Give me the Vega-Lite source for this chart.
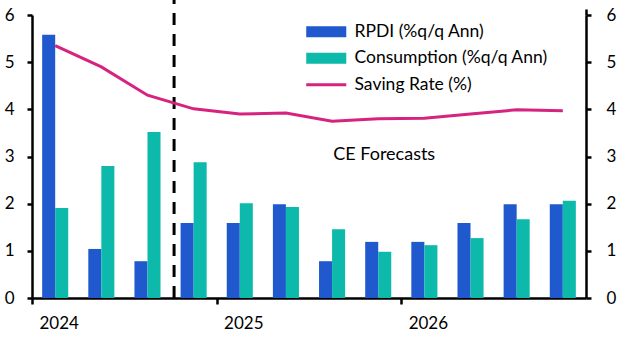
{
  "$schema": "https://vega.github.io/schema/vega-lite/v6.json",
  "width": 554,
  "height": 283,
  "autosize": {"type": "none"},
  "padding": {"left": 32, "top": 15, "right": 46, "bottom": 59},
  "config": {
    "font": "Lato",
    "view": {"stroke": null},
    "axis": {
      "domainColor": "black",
      "domainWidth": 2.5,
      "tickColor": "black",
      "tickWidth": 2.5,
      "tickSize": 5,
      "labelFontSize": 17,
      "labelColor": "black",
      "labelFont": "Lato",
      "grid": false,
      "title": null
    }
  },
  "datasets": {
    "bars": [
      {"q": "2024Q1", "series": "RPDI (%q/q Ann)", "value": 5.58},
      {"q": "2024Q1", "series": "Consumption (%q/q Ann)", "value": 1.91},
      {"q": "2024Q2", "series": "RPDI (%q/q Ann)", "value": 1.04},
      {"q": "2024Q2", "series": "Consumption (%q/q Ann)", "value": 2.8},
      {"q": "2024Q3", "series": "RPDI (%q/q Ann)", "value": 0.78},
      {"q": "2024Q3", "series": "Consumption (%q/q Ann)", "value": 3.52},
      {"q": "2024Q4", "series": "RPDI (%q/q Ann)", "value": 1.59},
      {"q": "2024Q4", "series": "Consumption (%q/q Ann)", "value": 2.88},
      {"q": "2025Q1", "series": "RPDI (%q/q Ann)", "value": 1.59},
      {"q": "2025Q1", "series": "Consumption (%q/q Ann)", "value": 2.01},
      {"q": "2025Q2", "series": "RPDI (%q/q Ann)", "value": 1.99},
      {"q": "2025Q2", "series": "Consumption (%q/q Ann)", "value": 1.93},
      {"q": "2025Q3", "series": "RPDI (%q/q Ann)", "value": 0.78},
      {"q": "2025Q3", "series": "Consumption (%q/q Ann)", "value": 1.46},
      {"q": "2025Q4", "series": "RPDI (%q/q Ann)", "value": 1.19},
      {"q": "2025Q4", "series": "Consumption (%q/q Ann)", "value": 0.98},
      {"q": "2026Q1", "series": "RPDI (%q/q Ann)", "value": 1.19},
      {"q": "2026Q1", "series": "Consumption (%q/q Ann)", "value": 1.12},
      {"q": "2026Q2", "series": "RPDI (%q/q Ann)", "value": 1.59},
      {"q": "2026Q2", "series": "Consumption (%q/q Ann)", "value": 1.27},
      {"q": "2026Q3", "series": "RPDI (%q/q Ann)", "value": 1.99},
      {"q": "2026Q3", "series": "Consumption (%q/q Ann)", "value": 1.67},
      {"q": "2026Q4", "series": "RPDI (%q/q Ann)", "value": 1.99},
      {"q": "2026Q4", "series": "Consumption (%q/q Ann)", "value": 2.06}
    ],
    "saving": [
      {"q": "2024Q1", "rate": 5.35},
      {"q": "2024Q2", "rate": 4.9},
      {"q": "2024Q3", "rate": 4.3},
      {"q": "2024Q4", "rate": 4.01},
      {"q": "2025Q1", "rate": 3.9},
      {"q": "2025Q2", "rate": 3.92},
      {"q": "2025Q3", "rate": 3.75},
      {"q": "2025Q4", "rate": 3.8},
      {"q": "2026Q1", "rate": 3.81},
      {"q": "2026Q2", "rate": 3.9},
      {"q": "2026Q3", "rate": 3.99},
      {"q": "2026Q4", "rate": 3.97}
    ],
    "notes": [
      {"q": "2025Q4", "y": 3.03, "label": "CE Forecasts", "divider": "2024Q4", "top": 6.32, "bottom": 0}
    ]
  },
  "layer": [
    {
      "layer": [
        {
          "data": {"name": "bars"},
          "mark": {"type": "bar"},
          "encoding": {
            "x": {
              "field": "q",
              "type": "nominal",
              "sort": "ascending",
              "scale": {"paddingInner": 0.435, "paddingOuter": 0.22},
              "axis": {
                "values": ["2024Q1", "2025Q1", "2026Q1"],
                "bandPosition": 0,
                "tickOffset": -10,
                "labelOffset": 13.5,
                "tickSize": 6,
                "labelPadding": 11,
                "labelAngle": 0,
                "labelExpr": "substring(datum.label, 0, 4)"
              }
            },
            "xOffset": {
              "field": "series",
              "type": "nominal",
              "sort": ["RPDI (%q/q Ann)", "Consumption (%q/q Ann)"]
            },
            "y": {
              "field": "value",
              "type": "quantitative",
              "scale": {"domain": [0, 6], "nice": false},
              "axis": {"orient": "left", "values": [0, 1, 2, 3, 4, 5, 6], "labelPadding": 13}
            },
            "color": {
              "field": "series",
              "type": "nominal",
              "scale": {
                "domain": ["RPDI (%q/q Ann)", "Consumption (%q/q Ann)", "Saving Rate (%)"],
                "range": ["#1F59CD", "#0CB9AB", "#D6237F"]
              },
              "legend": {
                "orient": "none",
                "legendX": 285.5,
                "legendY": 8,
                "title": null,
                "padding": 0,
                "symbolSize": 121,
                "labelFontSize": 17.5,
                "labelColor": "black",
                "labelFont": "Lato",
                "labelOffset": 19.5,
                "labelLimit": 300,
                "rowPadding": 7.5,
                "encode": {
                  "symbols": {
                    "update": {
                      "shape": {"signal": "datum.value == 'Saving Rate (%)' ? 'M-3.64,0H3.64' : 'M-3.64,-1H3.64V1H-3.64Z'"},
                      "fill": {"signal": "datum.value == 'Saving Rate (%)' ? 'transparent' : scale('color', datum.value)"},
                      "stroke": {"signal": "scale('color', datum.value)"},
                      "strokeWidth": {"signal": "datum.value == 'Saving Rate (%)' ? 3 : 0"},
                      "opacity": {"value": 1}
                    }
                  }
                }
              }
            }
          }
        },
        {
          "data": {"name": "notes"},
          "mark": {"type": "rule", "strokeDash": [12, 9], "strokeWidth": 3, "color": "black"},
          "encoding": {
            "x": {"field": "divider", "type": "nominal", "bandPosition": -0.25},
            "y": {"field": "bottom", "type": "quantitative"},
            "y2": {"field": "top"}
          }
        },
        {
          "data": {"name": "notes"},
          "mark": {"type": "text", "fontSize": 18, "font": "Lato", "color": "black", "align": "center", "baseline": "middle", "dx": 6},
          "encoding": {
            "x": {"field": "q", "type": "nominal"},
            "y": {"field": "y", "type": "quantitative"},
            "text": {"field": "label"}
          }
        }
      ]
    },
    {
      "data": {"name": "saving"},
      "mark": {"type": "line", "strokeWidth": 3},
      "encoding": {
        "x": {
          "field": "q",
          "type": "nominal",
          "axis": {
            "values": ["2026Q4"],
            "bandPosition": 1,
            "tickOffset": 10,
            "tickSize": 6,
            "labels": false,
            "domain": false
          }
        },
        "y": {
          "field": "rate",
          "type": "quantitative",
          "scale": {"domain": [0, 6], "nice": false},
          "axis": {"orient": "right", "values": [0, 1, 2, 3, 4, 5, 6], "labelPadding": 15}
        },
        "color": {"datum": "Saving Rate (%)"}
      }
    }
  ],
  "resolve": {"scale": {"y": "independent"}, "axis": {"x": "independent"}}
}
